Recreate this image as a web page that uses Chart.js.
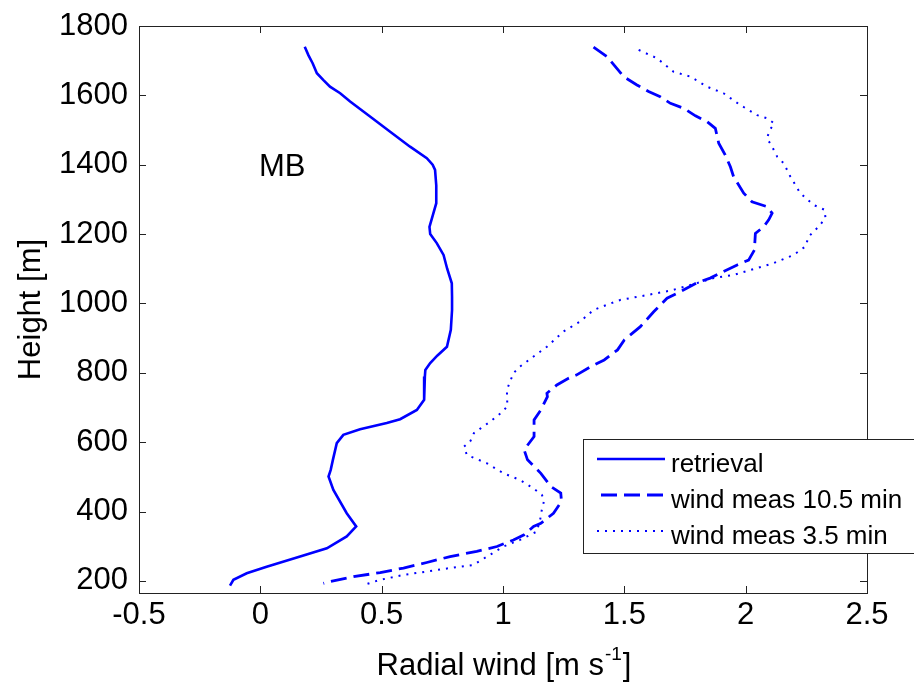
<!DOCTYPE html>
<html>
<head>
<meta charset="utf-8">
<script src="https://cdn.jsdelivr.net/npm/chart.js@4.4.0/dist/chart.umd.min.js"></script>
<style>
    html, body { margin: 0; padding: 0; background: #fff; }
    canvas { display: block; }
</style>
</head>
<body>
<canvas id="profile-chart" width="914" height="682"></canvas>
<script>
// axis ticks
var xTicks = [-0.5, 0, 0.5, 1, 1.5, 2, 2.5];
var yTicks = [200, 400, 600, 800, 1000, 1200, 1400, 1600, 1800];

// retrieval (solid)
var retrievalHeight = [1740, 1716, 1692, 1664, 1644, 1625, 1606, 1582, 1539, 1495, 1452, 1419, 1400, 1385, 1340, 1289, 1260, 1221, 1200,
    1174, 1140, 1100, 1058, 1020, 981, 924, 875, 850, 828, 808, 789, 722, 693, 666, 655, 637, 621, 597, 549,
    520, 501, 462, 395, 357, 328, 294, 270, 241, 222, 203, 186];
var retrievalWind = [0.183, 0.198, 0.216, 0.233, 0.26, 0.287, 0.329, 0.37, 0.452, 0.535, 0.617, 0.686, 0.71, 0.72, 0.725, 0.725, 0.713, 0.697, 0.70,
    0.727, 0.755, 0.77, 0.789, 0.79, 0.79, 0.785, 0.769, 0.73, 0.70, 0.68, 0.678, 0.675, 0.645, 0.576, 0.521, 0.411, 0.342, 0.315, 0.299,
    0.29, 0.281, 0.301, 0.356, 0.395, 0.356, 0.274, 0.164, 0.026, -0.056, -0.111, -0.125];

// wind measurement, 10.5 min average (dashed)
var meas105Height = [1739, 1712, 1683, 1654, 1630, 1611, 1596, 1577, 1563, 1541, 1524, 1505, 1462, 1428, 1394, 1366,
    1318, 1293, 1279, 1260, 1241, 1221, 1202, 1154, 1125, 1111, 1092, 1073, 1060, 1034, 1015, 976, 933, 895, 866,
    837, 818, 794, 784, 765, 741, 731, 693, 664, 616, 578, 549, 510, 472, 453, 429, 395, 366, 357, 333, 318,
    299, 285, 270, 253, 237, 224, 212, 198, 193];
var meas105Wind = [1.373, 1.428, 1.463, 1.497, 1.552, 1.60, 1.648, 1.69, 1.744, 1.793, 1.841, 1.875, 1.889, 1.916, 1.937, 1.95,
    1.992, 2.026, 2.088, 2.109, 2.095, 2.074, 2.04, 2.036, 2.012, 1.965, 1.909, 1.854, 1.80, 1.731, 1.676, 1.621, 1.566, 1.50, 1.472,
    1.417, 1.362, 1.304, 1.27, 1.222, 1.181, 1.183, 1.156, 1.128, 1.128, 1.087, 1.101, 1.156, 1.197, 1.238, 1.241, 1.208, 1.156, 1.126, 1.087, 1.043,
    0.975, 0.892, 0.782, 0.686, 0.59, 0.494, 0.384, 0.287, 0.26];

// wind measurement, 3.5 min average (dotted)
var meas35Height = [1731, 1707, 1668, 1654, 1625, 1606, 1572, 1543, 1534, 1519, 1500, 1476, 1452, 1423, 1404, 1366,
    1318, 1284, 1270, 1246, 1221, 1193, 1164, 1140, 1116, 1099, 1082, 1073, 1050, 1037, 1024, 1010, 996, 981,
    948, 919, 875, 847, 818, 799, 751, 703, 683, 659, 626, 602, 587, 563, 539, 510, 491, 467, 448, 433, 405,
    376, 342, 318, 299, 261, 246, 237, 227, 217, 203, 188];
var meas35Wind = [1.559, 1.635, 1.703, 1.772, 1.841, 1.909, 1.978, 2.047, 2.088, 2.118, 2.099, 2.088, 2.109, 2.13, 2.157, 2.184,
    2.225, 2.28, 2.325, 2.329, 2.30, 2.26, 2.246, 2.198, 2.115, 2.033, 1.95, 1.868, 1.758, 1.69, 1.593, 1.483, 1.428, 1.373,
    1.318, 1.249, 1.181, 1.126, 1.07, 1.043, 1.016, 1.018, 0.99, 0.947, 0.88, 0.865, 0.839, 0.851, 0.934, 1.002, 1.07, 1.125, 1.16, 1.17, 1.16,
    1.153, 1.139, 1.07, 1.002, 0.913, 0.878, 0.782, 0.686, 0.59, 0.494, 0.425];

var FONT = '"Liberation Sans", Arial, sans-serif';
var BLUE = '#0000ff';

function toPoints(heights, winds) {
    return heights.map(function (h, i) {
        return {x: winds[i], y: h};
    });
}

// MATLAB-like box with inward ticks, axis titles, "MB" label and legend
var axesDecor = {
    id: 'axesDecor',
    afterDraw: function (chart) {
        var ctx = chart.ctx;
        var area = chart.chartArea;
        var xs = chart.scales.x, ys = chart.scales.y;
        var tick = 7;

        ctx.save();
        ctx.strokeStyle = '#222';
        ctx.lineWidth = 1;
        ctx.strokeRect(Math.round(area.left) + 0.5, Math.round(area.top) + 0.5,
            Math.round(area.right - area.left), Math.round(area.bottom - area.top));

        ctx.beginPath();
        xTicks.forEach(function (v) {
            var px = Math.round(xs.getPixelForValue(v)) + 0.5;
            ctx.moveTo(px, area.bottom); ctx.lineTo(px, area.bottom - tick);
            ctx.moveTo(px, area.top); ctx.lineTo(px, area.top + tick);
        });
        yTicks.forEach(function (v) {
            var py = Math.round(ys.getPixelForValue(v)) + 0.5;
            ctx.moveTo(area.left, py); ctx.lineTo(area.left + tick, py);
            ctx.moveTo(area.right, py); ctx.lineTo(area.right - tick, py);
        });
        ctx.stroke();

        ctx.fillStyle = '#000';

        // x title with superscript
        var main = 'Radial wind [m s', sup = '-1', tail = ']';
        ctx.font = '31px ' + FONT;
        var wMain = ctx.measureText(main).width, wTail = ctx.measureText(tail).width;
        ctx.font = '19px ' + FONT;
        var wSup = ctx.measureText(sup).width;
        var cx = (area.left + area.right) / 2;
        var sx = cx - (wMain + wSup + wTail) / 2;
        var base = 675;
        ctx.textAlign = 'left';
        ctx.textBaseline = 'alphabetic';
        ctx.font = '31px ' + FONT;
        ctx.fillText(main, sx, base);
        ctx.font = '19px ' + FONT;
        ctx.fillText(sup, sx + wMain + 1, base - 15);
        ctx.font = '31px ' + FONT;
        ctx.fillText(tail, sx + wMain + wSup + 2, base);

        // y title
        ctx.save();
        ctx.translate(40, (area.top + area.bottom) / 2);
        ctx.rotate(-Math.PI / 2);
        ctx.textAlign = 'center';
        ctx.fillText('Height [m]', 0, 0);
        ctx.restore();

        // site label
        ctx.font = '31px ' + FONT;
        ctx.textAlign = 'center';
        ctx.fillText('MB', xs.getPixelForValue(0.09), ys.getPixelForValue(1400) + 11);

        // legend
        var lx = 583.5, ly = 439.5, lh = 114;
        ctx.fillStyle = '#fff';
        ctx.fillRect(lx, ly, 340, lh);
        ctx.strokeStyle = '#222';
        ctx.lineWidth = 1;
        ctx.strokeRect(lx, ly, 340, lh);
        ctx.font = '26px ' + FONT;
        ctx.textAlign = 'left';
        chart.data.datasets.forEach(function (ds, i) {
            var rowY = 459 + i * 36;
            ctx.strokeStyle = ds.borderColor;
            ctx.lineWidth = ds.borderWidth;
            ctx.setLineDash(ds.borderDash || []);
            ctx.beginPath();
            ctx.moveTo(ds.borderDash && ds.borderDash[0] > 10 ? 601 : 597, rowY);
            ctx.lineTo(665, rowY);
            ctx.stroke();
            ctx.setLineDash([]);
            ctx.fillStyle = '#000';
            ctx.fillText(ds.label, 671, rowY + 12.5);
        });
        ctx.restore();
    }
};

var config = {
    type: 'line',
    data: {
        datasets: [{
            label: 'retrieval',
            data: toPoints(retrievalHeight, retrievalWind),
            borderColor: BLUE,
            borderWidth: 2.6,
            pointRadius: 0,
            tension: 0
        }, {
            label: 'wind meas 10.5 min',
            data: toPoints(meas105Height, meas105Wind),
            borderColor: BLUE,
            borderWidth: 2.8,
            borderDash: [16, 7],
            pointRadius: 0,
            tension: 0
        }, {
            label: 'wind meas 3.5 min',
            data: toPoints(meas35Height, meas35Wind),
            borderColor: BLUE,
            borderWidth: 2,
            borderDash: [2, 6],
            pointRadius: 0,
            tension: 0
        }]
    },
    options: {
        responsive: false,
        animation: false,
        devicePixelRatio: 1,
        layout: {
            padding: {left: 0, top: 26, right: 47, bottom: 0}
        },
        plugins: {
            legend: {display: false},
            tooltip: {enabled: false}
        },
        scales: {
            x: {
                type: 'linear',
                min: -0.5,
                max: 2.5,
                grid: {display: false, drawTicks: false},
                border: {display: false},
                afterBuildTicks: function (scale) {
                    scale.ticks = xTicks.map(function (v) { return {value: v}; });
                },
                afterFit: function (scale) {
                    scale.height = 89;
                },
                ticks: {
                    color: '#000',
                    padding: 4,
                    maxRotation: 0,
                    autoSkip: false,
                    font: {family: FONT, size: 31},
                    callback: function (value) { return String(value); }
                }
            },
            y: {
                type: 'linear',
                min: 165,
                max: 1800,
                grid: {display: false, drawTicks: false},
                border: {display: false},
                afterBuildTicks: function (scale) {
                    scale.ticks = yTicks.map(function (v) { return {value: v}; });
                },
                afterFit: function (scale) {
                    scale.width = 139;
                },
                ticks: {
                    color: '#000',
                    padding: 11,
                    autoSkip: false,
                    font: {family: FONT, size: 31, lineHeight: 0.9},
                    callback: function (value) { return String(value); }
                }
            }
        }
    },
    plugins: [axesDecor]
};

new Chart(document.getElementById('profile-chart'), config);
</script>
</body>
</html>
